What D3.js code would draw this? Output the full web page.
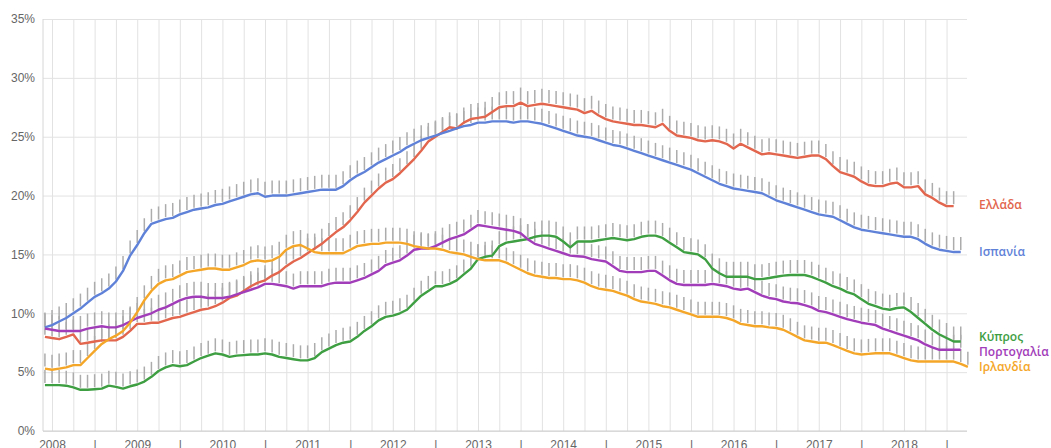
<!DOCTYPE html>
<html>
<head>
<meta charset="utf-8">
<script src="https://cdn.jsdelivr.net/npm/d3@7"></script>
<style>
  body { margin: 0; background: #fff; }
  svg { display: block; font-family: "Open Sans", "DejaVu Sans", sans-serif; }
  .grid line { stroke: #e2e2e2; stroke-width: 1; }
  .grid path { display: none; }
  .tick text { fill: #666; font-size: 12px; }
</style>
</head>
<body>
<svg id="chart" width="1051" height="448"></svg>
<script>
// monthly unemployment rate (%), first point Dec 2007
var startYear = 2007 + 11 / 12

var greece = [8.0, 7.9, 7.8, 8.0, 8.2, 7.4, 7.5, 7.6, 7.7, 7.7, 7.7, 8.0,
  8.5, 9.1, 9.1, 9.2, 9.2, 9.4, 9.6, 9.7, 9.9, 10.1, 10.3, 10.4,
  10.6, 10.9, 11.3, 11.5, 11.9, 12.3, 12.6, 12.8, 13.2, 13.5, 14.0, 14.4,
  14.7, 15.1, 15.5, 15.9, 16.4, 16.9, 17.3, 17.9, 18.6, 19.4, 20.0, 20.6,
  21.1, 21.4, 21.9, 22.5, 23.1, 23.8, 24.6, 25.0, 25.4, 25.8, 25.7, 26.2,
  26.5, 26.6, 26.7, 27.1, 27.5, 27.6, 27.6, 27.9, 27.6, 27.7, 27.8, 27.7,
  27.6, 27.5, 27.4, 27.3, 27.0, 27.2, 26.8, 26.5, 26.3, 26.2, 26.1, 26.0,
  26.0, 25.9, 25.8, 26.1, 25.5, 25.1, 25.0, 24.9, 24.7, 24.6, 24.7, 24.6,
  24.4, 24.0, 24.4, 24.1, 23.8, 23.5, 23.6, 23.5, 23.4, 23.3, 23.2, 23.3,
  23.4, 23.4, 23.1, 22.5, 22.0, 21.8, 21.6, 21.2, 20.9, 20.8, 20.8, 21.0,
  21.1, 20.7, 20.7, 20.8, 20.1, 19.8, 19.4, 19.1, 19.1]

var spain = [8.8, 9.0, 9.3, 9.6, 10.0, 10.4, 10.9, 11.4, 11.7, 12.1, 12.7, 13.6,
  14.9, 15.8, 16.8, 17.6, 17.8, 18.0, 18.1, 18.4, 18.6, 18.8, 18.9, 19.0,
  19.2, 19.3, 19.5, 19.7, 19.9, 20.1, 20.2, 19.9, 20.0, 20.0, 20.0, 20.1,
  20.2, 20.3, 20.4, 20.5, 20.5, 20.5, 20.8, 21.3, 21.7, 22.0, 22.4, 22.8,
  23.1, 23.4, 23.7, 24.1, 24.4, 24.7, 24.9, 25.1, 25.3, 25.5, 25.7, 25.9,
  26.0, 26.2, 26.2, 26.3, 26.3, 26.3, 26.2, 26.3, 26.3, 26.2, 26.1, 25.9,
  25.7, 25.5, 25.3, 25.1, 25.0, 24.9, 24.7, 24.5, 24.3, 24.2, 24.0, 23.8,
  23.6, 23.4, 23.2, 23.0, 22.8, 22.6, 22.4, 22.2, 21.9, 21.6, 21.3, 21.0,
  20.8, 20.6, 20.5, 20.4, 20.3, 20.2, 19.9, 19.6, 19.4, 19.2, 19.0, 18.8,
  18.6, 18.4, 18.3, 18.2, 17.9, 17.6, 17.3, 17.1, 17.0, 16.9, 16.8, 16.7,
  16.6, 16.5, 16.5, 16.3, 15.9, 15.6, 15.4, 15.3, 15.2, 15.2]

var cyprus = [3.9, 3.9, 3.9, 3.85, 3.7, 3.5, 3.5, 3.55, 3.6, 3.85, 3.75, 3.6,
  3.8, 3.95, 4.2, 4.6, 5.1, 5.4, 5.6, 5.5, 5.6, 5.9, 6.2, 6.4,
  6.6, 6.5, 6.3, 6.4, 6.45, 6.5, 6.5, 6.6, 6.5, 6.3, 6.2, 6.1,
  6.0, 6.0, 6.2, 6.7, 7.0, 7.3, 7.5, 7.6, 8.0, 8.5, 8.9, 9.4,
  9.7, 9.8, 10.0, 10.3, 10.9, 11.5, 11.9, 12.3, 12.3, 12.5, 12.8, 13.3,
  13.8, 14.6, 14.8, 14.9, 15.7, 16.0, 16.1, 16.2, 16.3, 16.5, 16.6, 16.6,
  16.5, 16.1, 15.6, 16.1, 16.1, 16.1, 16.2, 16.3, 16.4, 16.3, 16.2, 16.3,
  16.5, 16.6, 16.6, 16.4, 16.0, 15.6, 15.2, 15.1, 15.0, 14.6, 13.8, 13.4,
  13.1, 13.1, 13.1, 13.1, 12.9, 12.9, 13.0, 13.1, 13.2, 13.25, 13.25, 13.25,
  13.1, 12.85, 12.6, 12.3, 12.1, 11.8, 11.6, 11.2, 10.8, 10.6, 10.4, 10.3,
  10.45, 10.5, 10.1, 9.6, 9.1, 8.6, 8.2, 7.9, 7.6, 7.6]

var portugal = [8.7, 8.6, 8.5, 8.5, 8.5, 8.5, 8.7, 8.8, 8.9, 8.8, 8.8, 9.0,
  9.3, 9.6, 9.8, 10.0, 10.3, 10.5, 10.8, 11.1, 11.3, 11.4, 11.4, 11.3,
  11.3, 11.3, 11.4, 11.6, 11.8, 12.0, 12.2, 12.5, 12.5, 12.4, 12.3, 12.1,
  12.3, 12.3, 12.3, 12.3, 12.5, 12.6, 12.6, 12.6, 12.8, 13.0, 13.3, 13.6,
  14.1, 14.3, 14.5, 14.9, 15.4, 15.5, 15.5, 15.7, 16.0, 16.3, 16.5, 16.7,
  17.1, 17.5, 17.4, 17.3, 17.2, 17.1, 17.0, 16.8, 16.3, 15.9, 15.7, 15.5,
  15.3, 15.1, 14.9, 14.85, 14.8, 14.6, 14.5, 14.4, 14.0, 13.6, 13.5, 13.5,
  13.5, 13.6, 13.6, 13.2, 12.8, 12.5, 12.4, 12.4, 12.4, 12.4, 12.5, 12.4,
  12.3, 12.1, 12.0, 12.1, 11.8, 11.5, 11.3, 11.2, 11.0, 10.9, 10.85, 10.7,
  10.5, 10.2, 10.1, 9.9, 9.7, 9.5, 9.35, 9.2, 9.1, 9.0, 8.7, 8.5,
  8.3, 8.1, 7.9, 7.7, 7.35, 7.1, 6.9, 6.9, 6.9, 6.9]

var ireland = [5.3, 5.2, 5.3, 5.4, 5.6, 5.6, 6.2, 6.8, 7.4, 7.8, 8.1, 8.5,
  9.2, 10.1, 11.1, 11.9, 12.5, 12.8, 12.9, 13.2, 13.5, 13.6, 13.7, 13.8,
  13.8, 13.7, 13.7, 13.9, 14.1, 14.4, 14.5, 14.4, 14.5, 14.8, 15.4, 15.7,
  15.8, 15.5, 15.2, 15.1, 15.1, 15.1, 15.1, 15.4, 15.7, 15.8, 15.9, 15.9,
  16.0, 16.0, 16.0, 15.9, 15.7, 15.6, 15.5, 15.5, 15.4, 15.2, 15.1, 15.0,
  14.8, 14.6, 14.5, 14.5, 14.5, 14.3, 14.0, 13.7, 13.4, 13.2, 13.1, 13.0,
  13.0, 12.9, 12.9, 12.8, 12.6, 12.3, 12.1, 12.0, 11.9, 11.7, 11.5, 11.2,
  11.0, 10.9, 10.8, 10.6, 10.5, 10.3, 10.1, 9.9, 9.7, 9.7, 9.7, 9.7,
  9.6, 9.4, 9.1, 9.0, 8.9, 8.9, 8.8, 8.75, 8.6, 8.3, 8.0, 7.7,
  7.6, 7.5, 7.5, 7.3, 7.05, 6.8, 6.6, 6.5, 6.55, 6.6, 6.6, 6.6,
  6.4, 6.2, 6.0, 5.9, 5.9, 5.9, 5.9, 5.9, 5.9, 5.7, 5.45]

var names = ["Ελλάδα", "Ισπανία", "Κύπρος", "Πορτογαλία", "Ιρλανδία"]
var colors = ["#e2664d", "#5f82d8", "#3e9e42", "#a23db9", "#f4a629"]
var yTicks = [0, 5, 10, 15, 20, 25, 30, 35]

var seriesList = [greece, spain, cyprus, portugal, ireland]
var labelY = [205, 252, 337, 352, 367]

var svg = d3.select("#chart")
var plotLeft = 43, plotRight = 967, plotTop = 19, plotBottom = 431

var x = d3.scaleLinear().domain([2007.894, 2018.74]).range([plotLeft, plotRight])
var y = d3.scaleLinear().domain([0, 35]).range([plotBottom, plotTop])

// quarterly vertical grid + year labels
var xTicks = d3.range(2008, 2018.6, 0.25)
svg.append("g")
    .attr("class", "grid")
    .attr("transform", "translate(0," + plotBottom + ")")
    .call(d3.axisBottom(x)
        .tickValues(xTicks)
        .tickSize(-(plotBottom - plotTop))
        .tickPadding(9)
        .tickFormat(function(d) {
            if (d % 1 === 0) return d
            if (d % 1 === 0.5) return "|"
            return ""
        }))

svg.append("g")
    .attr("class", "grid")
    .attr("transform", "translate(" + plotLeft + ",0)")
    .call(d3.axisLeft(y)
        .tickValues(yTicks)
        .tickSize(-(plotRight - plotLeft))
        .tickPadding(8)
        .tickFormat(function(d) { return d + "%" }))

// left edge + baseline
svg.append("line").attr("x1", plotLeft).attr("x2", plotLeft).attr("y1", plotTop).attr("y2", plotBottom)
    .attr("stroke", "#d6d6d6")
svg.append("line").attr("x1", plotLeft).attr("x2", plotRight).attr("y1", plotBottom).attr("y2", plotBottom)
    .attr("stroke", "#cfcfcf")

var tOf = function(i) { return startYear + i / 12 }

// gray shadow hatches above every monthly point
var hatch = svg.append("g").attr("stroke", "#acacac").attr("stroke-width", 1.5)
seriesList.forEach(function(s) {
    hatch.selectAll(null)
        .data(s)
        .enter().append("line")
        .attr("x1", function(d, i) { return x(tOf(i)) })
        .attr("x2", function(d, i) { return x(tOf(i)) })
        .attr("y1", function(d) { return y(d) - 2 })
        .attr("y2", function(d) { return y(d) - 15 })
})

var line = d3.line()
    .x(function(d, i) { return x(tOf(i)) })
    .y(function(d) { return y(d) })

seriesList.forEach(function(s, k) {
    svg.append("path")
        .datum(s)
        .attr("d", line)
        .attr("fill", "none")
        .attr("stroke", colors[k])
        .attr("stroke-width", 2.4)
        .attr("stroke-linejoin", "round")
})

svg.append("g").selectAll("text")
    .data(names)
    .enter().append("text")
    .attr("x", 979)
    .attr("y", function(d, k) { return labelY[k] })
    .attr("dy", "0.35em")
    .attr("fill", function(d, k) { return colors[k] })
    .attr("font-size", 12)
    .attr("font-weight", 600)
    .text(function(d) { return d })
</script>
</body>
</html>
